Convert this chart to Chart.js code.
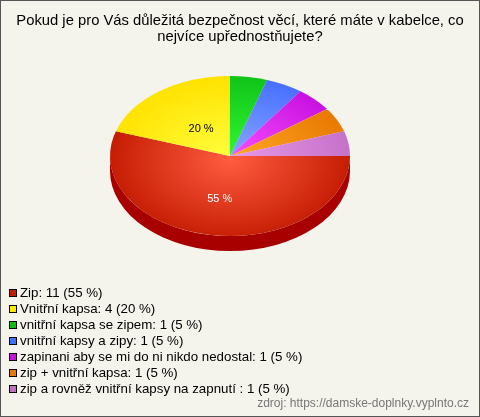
<!DOCTYPE html>
<html><head><meta charset="utf-8">
<script src="https://cdn.jsdelivr.net/npm/chart.js@4"></script>
<style>html,body{margin:0;padding:0;background:#f4f3ec}canvas{display:block}</style>
</head><body>
<canvas id="c" width="480" height="417"></canvas>
<script>
const titleLines = ["Pokud je pro Vás důležitá bezpečnost věcí, které máte v kabelce, co", "nejvíce upřednostňujete?"];
const categories = ["Zip", "Vnitřní kapsa", "vnitřní kapsa se zipem", "vnitřní kapsy a zipy", "zapinani aby se mi do ni nikdo nedostal", "zip + vnitřní kapsa", "zip a rovněž vnitřní kapsy na zapnutí "];
const counts = [11, 4, 1, 1, 1, 1, 1];
const percents = [55, 20, 5, 5, 5, 5, 5];
const sliceLabels = ["55 %", "20 %", "", "", "", "", ""];
const sliceLabelColors = ["#ffffff", "#000000", "#000", "#000", "#000", "#000", "#000"];
const footerText = "zdroj: https://damske-doplnky.vyplnto.cz";
const innerColors = ["#ff5c40", "#ffff40", "#34f834", "#88a8ff", "#f850ff", "#ffa828", "#e898e8"];
const outerColors = ["#c21a00", "#ffe200", "#10c418", "#4870ff", "#c810e0", "#e87800", "#c470c8"];
const sideColors = ["#a80000", "#c8b000", "#0a900a", "#3050c0", "#9000a8", "#b05800", "#905090"];
const legendColors = ["#c41c00", "#ffe800", "#10c010", "#4070ff", "#c810e0", "#e87800", "#c070c0"];

const SY = 80 / 120;
const DEPTH = 15;

const pie3d = {
  id: 'pie3d',
  beforeDraw(chart) {
    const c = chart.ctx;
    c.save();
    c.fillStyle = '#f4f3ec';
    c.fillRect(0, 0, chart.width, chart.height);
    c.restore();
  },
  beforeDatasetsDraw(chart) {
    const c = chart.ctx;
    const arcs = chart.getDatasetMeta(0).data;
    const cx = arcs[0].x, cy = arcs[0].y, r = arcs[0].outerRadius;
    arcs.forEach((a, i) => {
      let s = a.startAngle, e = a.endAngle;
      const twoPi = Math.PI * 2;
      while (s < 0) { s += twoPi; e += twoPi; }
      while (s >= twoPi) { s -= twoPi; e -= twoPi; }
      [[s, e], [s - twoPi, e - twoPi], [s + twoPi, e + twoPi]].forEach(([a1, a2]) => {
        const b1 = Math.max(a1, 0), b2 = Math.min(a2, Math.PI);
        if (b2 <= b1) return;
        c.beginPath();
        c.ellipse(cx, cy, r, r * SY, 0, b1, b2, false);
        c.lineTo(cx + r * Math.cos(b2), cy + r * SY * Math.sin(b2) + DEPTH);
        c.ellipse(cx, cy + DEPTH, r, r * SY, 0, b2, b1, true);
        c.closePath();
        c.fillStyle = sideColors[i];
        c.fill();
      });
      const g = c.createRadialGradient(cx, cy + 6, 0, cx, cy + 6, r * 1.05);
      g.addColorStop(0, innerColors[i]);
      g.addColorStop(1, outerColors[i]);
      a.options.backgroundColor = g;
    });
    c.save();
    c.translate(cx, cy);
    c.scale(1, SY);
    c.translate(-cx, -cy);
  },
  afterDatasetsDraw(chart) {
    const c = chart.ctx;
    c.restore();
    const arcs = chart.getDatasetMeta(0).data;
    c.save();
    c.font = '11px "Liberation Sans", Arial, sans-serif';
    c.textAlign = 'center';
    c.textBaseline = 'middle';
    arcs.forEach((a, i) => {
      if (!sliceLabels[i]) return;
      const m = (a.startAngle + a.endAngle) / 2;
      const f = i === 0 ? 0.55 : 0.41;
      const x = a.x + Math.cos(m) * a.outerRadius * f;
      const y = a.y + Math.sin(m) * a.outerRadius * SY * f;
      c.fillStyle = sliceLabelColors[i];
      c.fillText(sliceLabels[i], x, y);
    });
    c.restore();
  },
  afterDraw(chart) {
    const c = chart.ctx;
    c.save();
    c.fillStyle = '#000';
    c.font = '14.8px "Liberation Sans", Arial, sans-serif';
    c.textAlign = 'center';
    c.textBaseline = 'middle';
    titleLines.forEach((t, k) => c.fillText(t, 240, 21 + k * 16));
    c.font = '13.3px "Liberation Sans", Arial, sans-serif';
    c.textAlign = 'left';
    categories.forEach((cat, i) => {
      const y = 292.5 + i * 16;
      c.fillStyle = legendColors[i];
      c.fillRect(9, y - 3.5, 8, 7);
      c.strokeStyle = '#000';
      c.lineWidth = 1;
      c.strokeRect(9.5, y - 3, 7, 7);
      c.fillStyle = '#000';
      c.fillText(cat + ': ' + counts[i] + ' (' + percents[i] + ' %)', 20, y + 0.5);
    });
    c.font = '12px "Liberation Sans", Arial, sans-serif';
    c.fillStyle = '#777';
    c.textAlign = 'right';
    c.fillText(footerText, 469, 404);
    c.strokeStyle = '#555';
    c.lineWidth = 1;
    c.strokeRect(0.5, 0.5, chart.width - 1, chart.height - 1);
    c.restore();
  }
};

new Chart(document.getElementById('c'), {
  type: 'pie',
  data: {
    labels: categories,
    datasets: [{
      data: counts,
      backgroundColor: outerColors,
      borderWidth: 0,
      hoverOffset: 0
    }]
  },
  options: {
    responsive: false,
    animation: false,
    rotation: 90,
    layout: { padding: { left: 110, right: 130, top: 36, bottom: 141 } },
    plugins: {
      legend: { display: false },
      title: { display: false },
      tooltip: { enabled: false }
    },
    events: []
  },
  plugins: [pie3d]
});
</script>
</body></html>
